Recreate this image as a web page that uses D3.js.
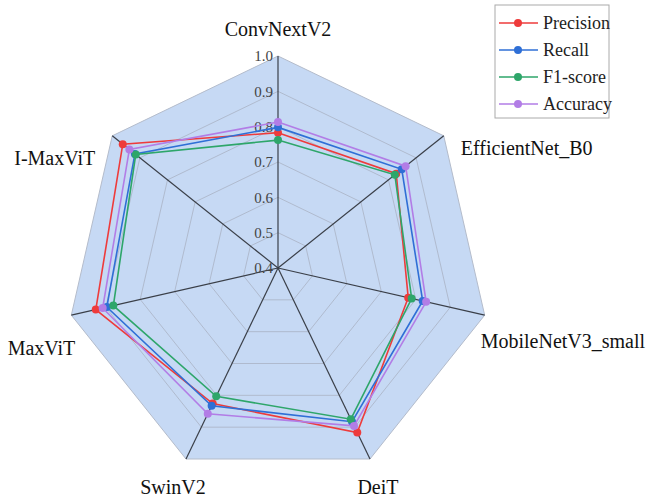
<!DOCTYPE html>
<html>
<head>
<meta charset="utf-8">
<script src="https://cdn.jsdelivr.net/npm/d3@7"></script>
<style>
  body { margin: 0; background: #fff; }
  svg { display: block; font-family: "Liberation Serif", "Times New Roman", serif; }
</style>
</head>
<body>
<div id="chart"></div>
<script>
// Categories (clockwise from top) and metric values.
const models = ["ConvNextV2", "EfficientNet_B0", "MobileNetV3_small", "DeiT", "SwinV2", "MaxViT", "I-MaxViT"];
const precision = [0.783, 0.828, 0.778, 0.917, 0.826, 0.929, 0.962];
const recall    = [0.798, 0.848, 0.820, 0.883, 0.833, 0.897, 0.918];
const f1score   = [0.762, 0.823, 0.788, 0.875, 0.803, 0.878, 0.915];
const accuracy  = [0.813, 0.862, 0.830, 0.896, 0.858, 0.909, 0.938];
const ticks = [0.4, 0.5, 0.6, 0.7, 0.8, 0.9, 1.0];
const seriesNames = ["Precision", "Recall", "F1-score", "Accuracy"];

const series = [
  {name: seriesNames[0], values: precision, color: "#ee3b3b"},
  {name: seriesNames[1], values: recall, color: "#2f6fd6"},
  {name: seriesNames[2], values: f1score, color: "#2ea66a"},
  {name: seriesNames[3], values: accuracy, color: "#b27de6"}
];

const width = 646;
const height = 499;
const cx = 278;
const cy = 268;
const radius = 212;

// Radial scale: 0.4 at the centre, 1.0 at the rim.
const r = d3.scaleLinear([0.4, 1.0], [0, radius]);
// Angle scale: one spoke per model, clockwise from 12 o'clock.
const angle = d3.scaleLinear([0, models.length], [0, 2 * Math.PI]);

const pt = (i, v) => [Math.sin(angle(i)) * r(v), -Math.cos(angle(i)) * r(v)];

const svg = d3.create("svg")
  .attr("width", width)
  .attr("height", height)
  .attr("viewBox", [0, 0, width, height]);

d3.select("#chart").append(() => svg.node());

const g = svg.append("g").attr("transform", `translate(${cx},${cy})`);

const ring = d3.lineRadial()
  .angle((d, i) => angle(i))
  .radius(d => r(d))
  .curve(d3.curveLinearClosed);

// Background heptagon.
g.append("path")
  .attr("d", ring(models.map(() => 1.0)))
  .attr("fill", "#c6d9f4")
  .attr("stroke", "#b4bccb")
  .attr("stroke-width", 1);

// Grid rings.
g.selectAll(".grid")
  .data(ticks.slice(1, -1))
  .join("path")
  .attr("d", t => ring(models.map(() => t)))
  .attr("fill", "none")
  .attr("stroke", "#a9b3c4")
  .attr("stroke-width", 0.8);

// Spokes.
g.selectAll(".spoke")
  .data(models)
  .join("line")
  .attr("x1", 0).attr("y1", 0)
  .attr("x2", (d, i) => pt(i, 1.0)[0])
  .attr("y2", (d, i) => pt(i, 1.0)[1])
  .attr("stroke", "#3a3f48")
  .attr("stroke-width", 1.2);

// Tick labels along the top spoke.
g.selectAll(".tick")
  .data(ticks)
  .join("text")
  .attr("x", -5)
  .attr("y", t => -r(t))
  .attr("dy", "0.35em")
  .attr("text-anchor", "end")
  .attr("font-size", 15)
  .attr("fill", "#444")
  .text(t => t.toFixed(1));

// Axis labels: offsets relative to each spoke end.
const labelOffsets = [
  [0, -27, "middle"],
  [17, 12, "start"],
  [-4, 26, "start"],
  [8, 28, "middle"],
  [-13, 28, "middle"],
  [4, 33, "end"],
  [-17, 22, "end"]
];
g.selectAll(".label")
  .data(models)
  .join("text")
  .attr("x", (d, i) => pt(i, 1.0)[0] + labelOffsets[i][0])
  .attr("y", (d, i) => pt(i, 1.0)[1] + labelOffsets[i][1])
  .attr("dy", "0.35em")
  .attr("text-anchor", (d, i) => labelOffsets[i][2])
  .attr("font-size", 20)
  .attr("fill", "#111")
  .text(d => d);

// Series polygons and markers.
const sg = g.selectAll(".series")
  .data(series)
  .join("g");

sg.append("path")
  .attr("d", d => ring(d.values))
  .attr("fill", "none")
  .attr("stroke", d => d.color)
  .attr("stroke-width", 1.6);

sg.selectAll("circle")
  .data(d => d.values.map((v, i) => ({v, i, color: d.color})))
  .join("circle")
  .attr("cx", d => pt(d.i, d.v)[0])
  .attr("cy", d => pt(d.i, d.v)[1])
  .attr("r", 4)
  .attr("fill", d => d.color);

// Legend.
const legend = svg.append("g").attr("transform", "translate(495,5)");
legend.append("rect")
  .attr("width", 114)
  .attr("height", 113)
  .attr("fill", "#fff")
  .attr("stroke", "#aaa");

const item = legend.selectAll(".item")
  .data(series)
  .join("g")
  .attr("transform", (d, i) => `translate(0,${18 + i * 27})`);
item.append("line")
  .attr("x1", 4).attr("x2", 43)
  .attr("stroke", d => d.color)
  .attr("stroke-width", 1.6);
item.append("circle")
  .attr("cx", 23).attr("r", 4)
  .attr("fill", d => d.color);
item.append("text")
  .attr("x", 48)
  .attr("dy", "0.35em")
  .attr("font-size", 18)
  .attr("fill", "#222")
  .text(d => d.name);
</script>
</body>
</html>
